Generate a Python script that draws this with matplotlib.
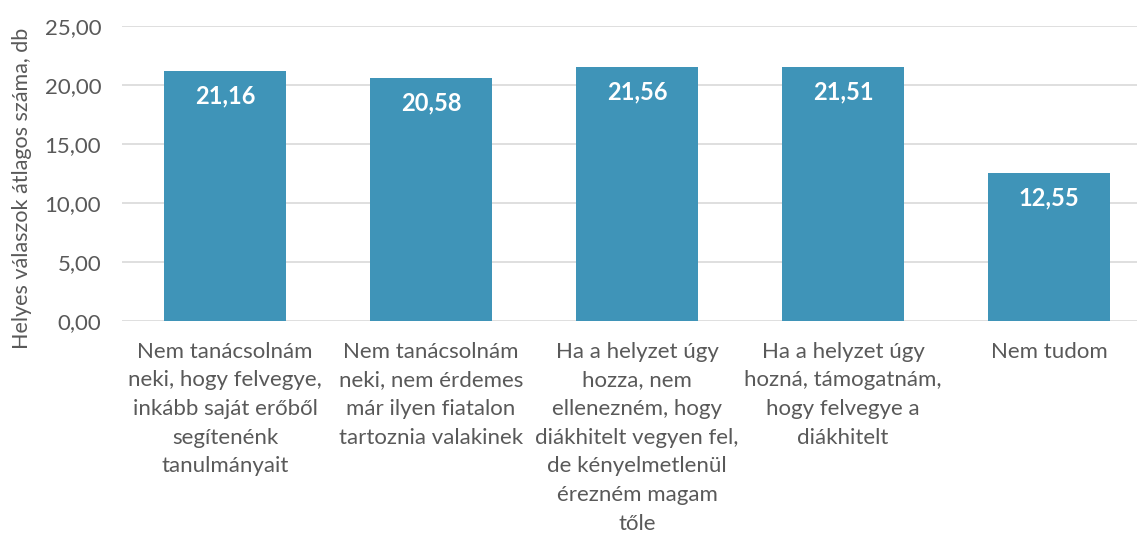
import matplotlib
matplotlib.use("Agg")
import matplotlib.pyplot as plt

categories = [
    "Nem tanácsolnám\nneki, hogy felvegye,\ninkább saját erőből\nsegítenénk\ntanulmányait",
    "Nem tanácsolnám\nneki, nem érdemes\nmár ilyen fiatalon\ntartoznia valakinek",
    "Ha a helyzet úgy\nhozza, nem\nellenezném, hogy\ndiákhitelt vegyen fel,\nde kényelmetlenül\nérezném magam\ntőle",
    "Ha a helyzet úgy\nhozná, támogatnám,\nhogy felvegye a\ndiákhitelt",
    "Nem tudom",
]
values = [21.16, 20.58, 21.56, 21.51, 12.55]
yticks = [0, 5, 10, 15, 20, 25]
ylabel = "Helyes válaszok átlagos száma, db"

plt.rcParams['font.family'] = ['Lato', 'DejaVu Sans']
text_color = "#595959"
bar_color = "#3F94B8"

W, H = 1137, 537
fig = plt.figure(figsize=(W / 100, H / 100), dpi=100)
left, right, bottom, top = 122, 1152, 321, 26
ax = fig.add_axes([left / W, (H - bottom) / H, (right - left) / W, (bottom - top) / H])

x = list(range(len(values)))
bars = ax.bar(x, values, width=0.59, color=bar_color, zorder=2)
ax.set_xlim(-0.5, len(values) - 0.5)
ax.set_ylim(0, 25)
ax.set_yticks(yticks)
ax.set_yticklabels([f"{v:.2f}".replace(".", ",") for v in yticks], fontsize=16, color=text_color)
ax.set_xticks(x)
ax.set_xticklabels(categories, fontsize=16, color=text_color, linespacing=1.54, va="top")
ax.tick_params(axis='both', length=0)
ax.tick_params(axis='x', pad=15)
ax.tick_params(axis='y', pad=15)
ax.grid(axis='y', color="#D9D9D9", linewidth=1.2, zorder=0)
ax.set_axisbelow(True)
for s in ax.spines.values():
    s.set_visible(False)

for xi, v in zip(x, values):
    ax.annotate(f"{v:.2f}".replace(".", ","), (xi, v), xytext=(0, -18), textcoords="offset points",
                ha="center", va="center", color="white", fontsize=17, fontweight="bold")

fig.text(22 / W, 0.65, ylabel, rotation=90, ha="center", va="center", fontsize=15.5, color=text_color)

fig.savefig("out.png", dpi=100)
